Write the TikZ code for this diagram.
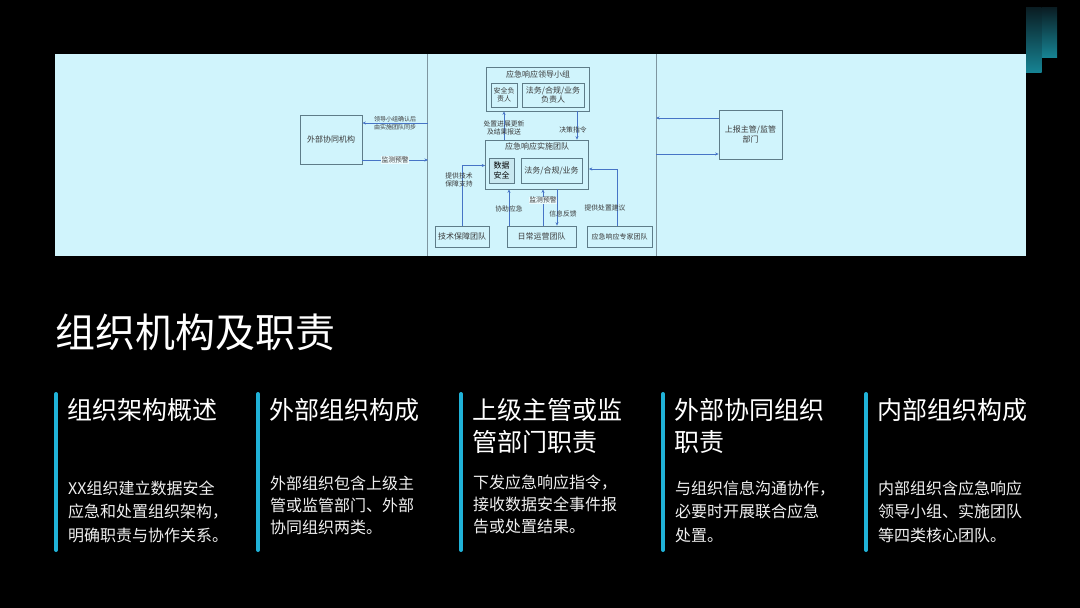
\documentclass[tikz,border=0pt]{standalone}
\usepackage{fontspec}
\setmainfont{Noto Sans CJK SC}
\usetikzlibrary{arrows.meta,positioning}

\definecolor{bandbg}{HTML}{D0F4FC}
\definecolor{boxline}{HTML}{5E7C88}
\definecolor{flowblue}{HTML}{4674C6}
\definecolor{txtgrey}{HTML}{3A3A3A}
\definecolor{barcyan}{HTML}{20B2D8}
\definecolor{decotop}{HTML}{0A1C22}
\definecolor{decobot}{HTML}{168393}

\begin{document}
\begin{tikzpicture}[x=1pt,y=-1pt,
  box/.style={draw=boxline,line width=0.7pt,inner sep=0pt,align=center,text=txtgrey,font=\fontsize{8}{9.5}\selectfont},
  boxtitle/.style={inner sep=0pt,text=txtgrey,font=\fontsize{8}{9.5}\selectfont},
  flow/.style={draw=flowblue,line width=0.9pt,-{Stealth[length=3.5pt,width=3pt]}},
  lbl/.style={inner sep=0pt,align=center,text=txtgrey,font=\fontsize{6.8}{8}\selectfont},
  bar/.style={draw=barcyan,line width=4pt,line cap=round},
  head/.style={anchor=base west,inner sep=0pt,align=left,text=white,font=\fontsize{25}{32}\selectfont},
  body/.style={anchor=base west,inner sep=0pt,align=left,text=white!94!black,font=\fontsize{16}{23.5}\selectfont}]

\fill[black] (0,0) rectangle (1080,608);
\useasboundingbox (0,0) rectangle (1080,608);

\shade[top color=decotop,bottom color=decobot] (1026,7) rectangle (1041.5,72);
\shade[top color=decotop,bottom color=decobot] (1042,7) rectangle (1057,57);

\fill[bandbg] (55,54) rectangle (1026,256);
\node[minimum width=228pt,minimum height=202pt,inner sep=0pt] (core) at (542,155) {};
\draw[boxline!80,line width=0.8pt] (core.north west) -- (core.south west)
  (core.north east) -- (core.south east);

\node[box,minimum width=103pt,minimum height=44pt] (lead) at (538,89) {};
\node[boxtitle] (leadt) at (538,74) {应急响应领导小组};
\node[box,minimum width=26pt,minimum height=24pt,font=\fontsize{7}{8.5}\selectfont] (secA) at (504,95) {安全负\\责人};
\node[box,minimum width=62pt,minimum height=24pt] (legalA) at (553,95) {法务/合规/业务\\负责人};

\node[box,minimum width=103pt,minimum height=49pt] (impl) at (537,164.5) {};
\node[boxtitle] (implt) at (537,146.5) {应急响应实施团队};
\node[box,fill=bandbg!90!gray,text=black,minimum width=25pt,minimum height=25pt] (dataS) at (501.5,170.5) {数据\\安全};
\node[box,minimum width=61pt,minimum height=25pt] (legalB) at (551.5,170.5) {法务/合规/业务};

\node[box,minimum width=54pt,minimum height=21pt] (tech) at (462,236.5) {技术保障团队};
\node[box,minimum width=69pt,minimum height=21pt] (ops) at (541.5,236.5) {日常运营团队};
\node[box,minimum width=65pt,minimum height=21pt,font=\fontsize{7}{8.5}\selectfont] (expert) at (619.5,236.5) {应急响应专家团队};

\node[box,minimum width=62pt,minimum height=49pt] (ext) at (331,139.5) {外部协同机构};
\node[box,minimum width=63pt,minimum height=49pt] (sup) at (750.5,134.5) {上报主管/监管\\部门};

\coordinate (pL1) at (428,123);
\coordinate (pL2) at (428,160);
\coordinate (pR1) at (656,118);
\coordinate (pR2) at (656,154);

\draw[flow] (pL1) -- (ext.east |- pL1)
  node[lbl,midway,font=\fontsize{6}{7.6}\selectfont] {领导小组确认后\\由实施团队同步};
\draw[flow] (ext.east |- pL2) -- (pL2)
  node[lbl,midway,fill=bandbg!40!white,inner sep=0.5pt] {监测预警};
\draw[flow] (sup.west |- pR1) -- (pR1);
\draw[flow] (pR2) -- (sup.west |- pR2);

\draw[flow] (impl.north -| secA) -- (lead.south -| secA)
  node[lbl,pos=0.4] {处置进展更新\\及结果报送};
\draw[flow] ([xshift=39pt]lead.south) -- ([xshift=40pt]impl.north)
  node[lbl,pos=0.65,xshift=-4pt] {决策指令};

\draw[flow] (tech.north) |- ([yshift=-1pt]impl.west)
  node[lbl,pos=0.38,xshift=-3pt] {提供技术\\保障支持};
\draw[flow] ([xshift=-32.5pt]ops.north) -- ([xshift=-32.5pt]ops.north |- impl.south)
  node[lbl,pos=0.45] {协助应急};
\draw[flow] ([xshift=1.5pt]ops.north) -- ([xshift=1.5pt]ops.north |- impl.south)
  node[lbl,pos=0.7,fill=bandbg!40!white,inner sep=0.5pt] {监测预警};
\draw[flow] ([xshift=15.5pt]ops.north |- impl.south) -- ([xshift=15.5pt]ops.north)
  node[lbl,pos=0.68,xshift=6pt] {信息反馈};
\draw[flow] ([xshift=-2.5pt]expert.north) |- ([yshift=-4.5pt]impl.east)
  node[lbl,pos=0.16,xshift=-12pt] {提供处置建议};

\node[anchor=base west,inner sep=0pt,text=white,font=\fontsize{40}{48}\selectfont] (title) at (55,347) {组织机构及职责};

\draw[bar] (56,394) -- (56,550);
\draw[bar] (258,394) -- (258,550);
\draw[bar] (461,394) -- (461,550);
\draw[bar] (663,394) -- (663,550);
\draw[bar] (866,394) -- (866,550);

\node[head] (h1) at (67,419.5) {组织架构概述};
\node[head] (h2) at (269,419.5) {外部组织构成};
\node[head] (h3) at (472,451.5) {上级主管或监\\管部门职责};
\node[head] (h4) at (674,451.5) {外部协同组织\\职责};
\node[head] (h5) at (877,419.5) {内部组织构成};

\node[body] (b1) at (68,541) {XX组织建立数据安全\\应急和处置组织架构，\\明确职责与协作关系。};
\node[body,font=\fontsize{16}{22}\selectfont] (b2) at (270,533) {外部组织包含上级主\\管或监管部门、外部\\协同组织两类。};
\node[body,font=\fontsize{16}{22}\selectfont] (b3) at (473,532) {下发应急响应指令，\\接收数据安全事件报\\告或处置结果。};
\node[body] (b4) at (675,541) {与组织信息沟通协作，\\必要时开展联合应急\\处置。};
\node[body] (b5) at (878,541) {内部组织含应急响应\\领导小组、实施团队\\等四类核心团队。};

\end{tikzpicture}
\end{document}
